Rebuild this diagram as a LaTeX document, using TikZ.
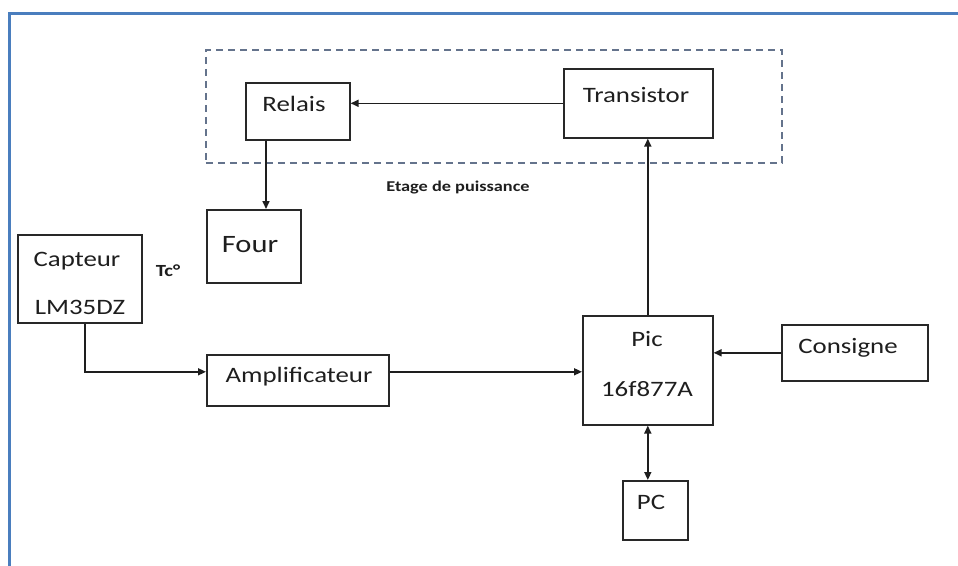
\documentclass[tikz,border=0pt]{standalone}
\usepackage{fontspec}
\setmainfont{Carlito}[FakeStretch=1.22]
\usetikzlibrary{arrows.meta,calc}
\definecolor{boxc}{RGB}{40,40,40}
\definecolor{linec}{RGB}{30,30,30}
\definecolor{txtc}{RGB}{30,30,30}
\definecolor{dashc}{RGB}{100,115,140}
\definecolor{frameblue}{RGB}{74,126,190}
\begin{document}
\begin{tikzpicture}[x=1pt,y=-1pt,
  box/.style={draw=boxc, line width=1.6pt, anchor=north west, inner sep=0pt},
  dashbox/.style={draw=dashc, line width=1.5pt, dash pattern=on 7pt off 5pt, anchor=north west, inner sep=0pt},
  txt/.style={anchor=base, text=txtc, font=\fontsize{22}{26}\selectfont, inner sep=0pt},
  bigtxt/.style={anchor=base, text=txtc, font=\fontsize{25}{30}\selectfont, inner sep=0pt},
  btxt/.style={anchor=base, text=txtc, font=\fontsize{15}{18}\selectfont\bfseries, inner sep=0pt},
  arr/.style={draw=linec, line width=1.6pt, -{Triangle[length=8pt,width=7pt]}},
  darr/.style={draw=linec, line width=1.6pt, {Triangle[length=8pt,width=7pt]}-{Triangle[length=8pt,width=7pt]}}]
\useasboundingbox (0,0) rectangle (958,565);
% frame
\draw[frameblue, line width=3pt] (9.5,566) -- (9.5,13.5) -- (959,13.5);
% group box
\node[dashbox, minimum width=576pt, minimum height=113pt] (stage) at (205,49) {};
% boxes
\node[box, minimum width=104pt, minimum height=57pt] (relais) at (245,82) {};
\node[box, minimum width=149pt, minimum height=69pt] (transistor) at (563,68) {};
\node[box, minimum width=94pt, minimum height=73pt] (four) at (206,209) {};
\node[box, minimum width=124pt, minimum height=88pt] (capteur) at (17,234) {};
\node[box, minimum width=182pt, minimum height=51pt] (amp) at (206,354) {};
\node[box, minimum width=130pt, minimum height=109pt] (pic) at (582,315) {};
\node[box, minimum width=146pt, minimum height=56pt] (consigne) at (781,324) {};
\node[box, minimum width=65pt, minimum height=59pt] (pc) at (622,480) {};
% texts
\node[txt] (relaisT) at (294,111) {Relais};
\node[txt] (transT) at (636,102) {Transistor};
\node[bigtxt] (fourT) at (250,252) {Four};
\node[txt] (captT) at (77,266) {Capteur};
\node[txt] (lmT) at (80,314) {LM35DZ};
\node[btxt, font=\fontsize{17}{20}\selectfont\bfseries] (tcT) at (168,276) {Tc°};
\node[txt] (ampT) at (299,382) {Amplificateur};
\node[txt] (picT) at (647,346) {Pic};
\node[txt] (picT2) at (647,396) {16f877A};
\node[txt] (consT) at (848,353) {Consigne};
\node[txt] (pcT) at (651,509) {PC};
\node[btxt] (etageT) at (458,191) {Etage de puissance};
% connectors
\draw[arr] (transistor.west) -- (relais.east |- transistor.west);
\draw[arr] ([xshift=21pt]relais.south west) -- ([xshift=21pt]relais.south west |- four.north);
\draw[arr] (pic.north) -- (pic.north |- transistor.south);
\coordinate (ampin) at ([yshift=8.5pt]amp.west);
\draw[arr] ([xshift=5pt]capteur.south) |- (ampin);
\coordinate (ampout) at ([yshift=8.5pt]amp.east);
\draw[arr] (ampout) -- (pic.west |- ampout);
\draw[arr] (consigne.west) -- (consigne.west -| pic.east);
\draw[darr] (pic.south) -- (pic.south |- pc.north);
\end{tikzpicture}
\end{document}
